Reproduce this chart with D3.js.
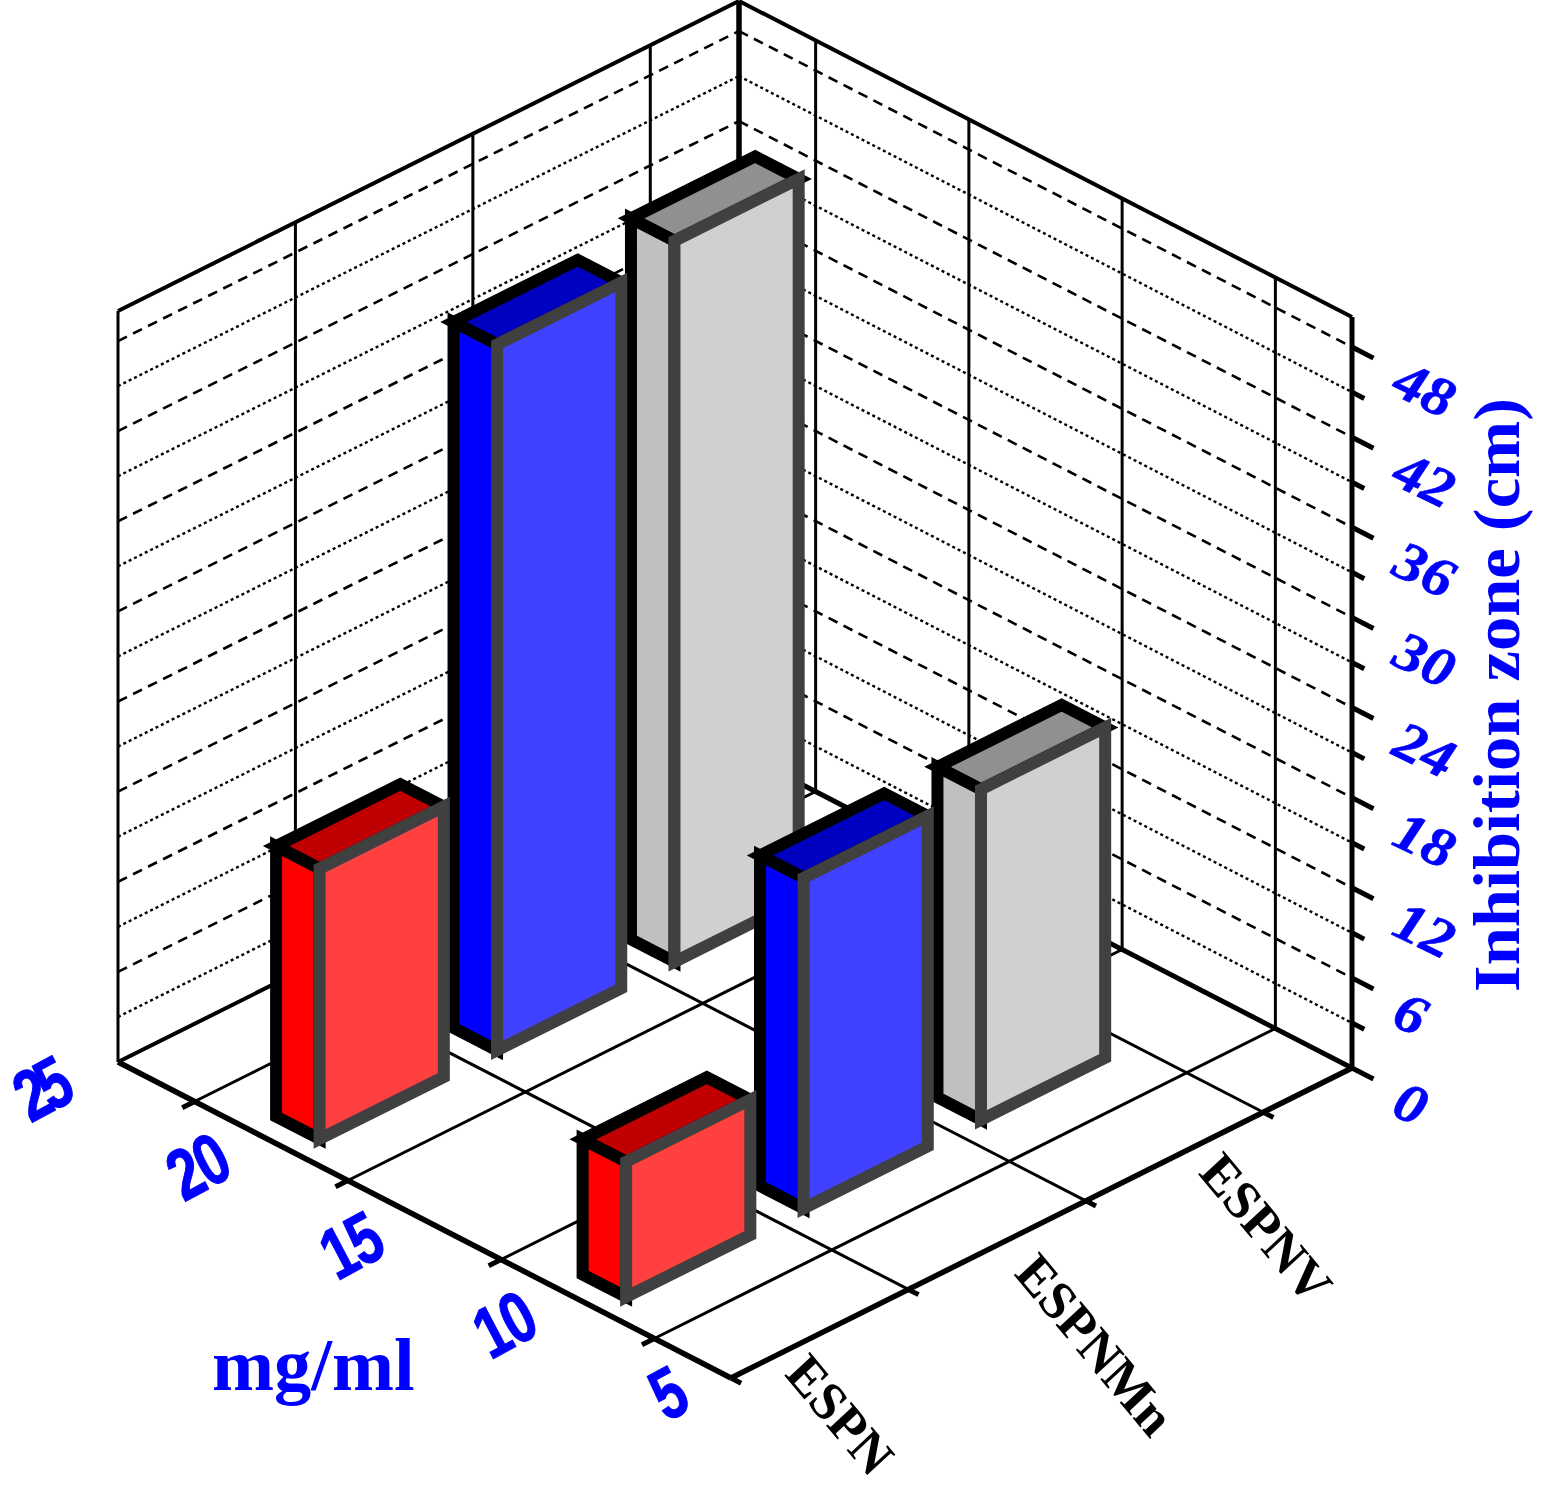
<!DOCTYPE html>
<html>
<head>
<meta charset="utf-8">
<script src="https://cdn.jsdelivr.net/npm/d3@7"></script>
<style>
  html, body { margin: 0; padding: 0; background: #fff; }
  svg { display: block; }
</style>
</head>
<body>
<div class="canvas"></div>
<script>
// Data
const categories = ['ESPN', 'ESPNMn', 'ESPNV'];
const categoryPos = [0.5, 1.5, 2.5];
const categoryTicks = [1, 2, 3];
const rows = [17.5, 7.5];              // mg/ml position of the two bar rows, back row first
const backRow = [18, 47, 48];          // inhibition zone at the back row
const frontRow = [9, 22, 22];          // inhibition zone at the front row
const concTicks = [5, 10, 15, 20];
const concLabels = [5, 10, 15, 20, 25];
const majorTicks = [0, 6, 12, 18, 24, 30, 36, 42, 48];
const minorTicks = [3, 9, 15, 21, 27, 33, 39, 45];

const seriesLeft = ['#ff0000', '#0000ff', '#c0c0c0'];
const seriesRight = ['#ff4040', '#4040ff', '#d0d0d0'];
const seriesTop = ['#c00000', '#0000c0', '#909090'];

// Setting constants
const wWidth = 1541;
const wHeight = 1489;

const svg = d3.select('.canvas')
    .append('svg')
    .attr('width', wWidth)
    .attr('height', wHeight);

// Floor corners of the box in the picture
const front = [731, 1378];
const right = [1352, 1068];
const left = [118, 1062];

// Scales, one for each box direction
const catScale = d3.scaleLinear().domain([0, 3.5]).range([0, 1]);
const concScale = d3.scaleLinear().domain([2.5, 22.5]).range([0, 1]);
const valScale = d3.scaleLinear().domain([0, 50]).range([0, 751]);

const catMin = 0, catMax = 3.5, concMin = 2.5, concMax = 22.5, valMax = 50;

// 3D box position to screen position
function project(c, z, v) {
    const a = catScale(c), b = concScale(z);
    return [
        front[0] + a * (right[0] - front[0]) + b * (left[0] - front[0]),
        front[1] + a * (right[1] - front[1]) + b * (left[1] - front[1]) - valScale(v)
    ];
}

function seg(g, p, q, width, dash) {
    const a = project(...p), b = project(...q);
    g.append('line')
        .attr('x1', a[0]).attr('y1', a[1])
        .attr('x2', b[0]).attr('y2', b[1])
        .attr('stroke', '#000')
        .attr('stroke-width', width)
        .attr('stroke-dasharray', dash || null);
}

const grid = svg.append('g');

// Wall and floor grid lines
majorTicks.slice(1).forEach(v => {
    seg(grid, [catMin, concMax, v], [catMax, concMax, v], 2.6, '10 6.8');
    seg(grid, [catMax, concMax, v], [catMax, concMin, v], 2.6, '10 6.8');
});
minorTicks.forEach(v => {
    seg(grid, [catMin, concMax, v], [catMax, concMax, v], 2.4, '3 3');
    seg(grid, [catMax, concMax, v], [catMax, concMin, v], 2.4, '3 3');
});
categoryTicks.forEach(c => {
    seg(grid, [c, concMax, 0], [c, concMax, valMax], 3);
    seg(grid, [c, concMin, 0], [c, concMax, 0], 3);
    seg(grid, [c, concMin, 0], [c, concMin - 0.33, 0], 5);
});
concTicks.forEach(z => {
    seg(grid, [catMax, z, 0], [catMax, z, valMax], 3);
    seg(grid, [catMin, z, 0], [catMax, z, 0], 3);
    seg(grid, [catMin, z, 0], [catMin - 0.07, z, 0], 5);
});

// Box edges
seg(grid, [catMin, concMax, 0], [catMin, concMax, valMax], 3);
seg(grid, [catMax, concMax, 0], [catMax, concMax, valMax], 5.5);
seg(grid, [catMax, concMin, 0], [catMax, concMin, valMax], 5);
seg(grid, [catMin, concMax, valMax], [catMax, concMax, valMax], 4);
seg(grid, [catMax, concMax, valMax], [catMax, concMin, valMax], 4);
seg(grid, [catMin, concMax, 0], [catMax, concMax, 0], 4);
seg(grid, [catMax, concMax, 0], [catMax, concMin, 0], 5);
seg(grid, [catMin, concMin, 0], [catMin, concMax, 0], 5.5);
seg(grid, [catMin, concMin, 0], [catMax, concMin, 0], 5.5);
seg(grid, [catMin, concMin, 0], [catMin, concMin - 0.33, 0], 5);

// Value axis ticks
majorTicks.forEach(v => seg(grid, [catMax, concMin, v], [catMax, concMin - 0.7, v], 5));
minorTicks.forEach(v => seg(grid, [catMax, concMin, v], [catMax, concMin - 0.4, v], 5));

// Bars, far ones first so that the near ones cover them
const halfCat = 0.35, halfConc = 0.71;
const barStroke = 12;

function poly(g, pts, fill, stroke) {
    g.append('polygon')
        .attr('points', pts.map(p => project(...p).join(',')).join(' '))
        .attr('fill', fill)
        .attr('stroke', stroke)
        .attr('stroke-width', barStroke)
        .attr('stroke-linejoin', 'miter')
        .attr('stroke-miterlimit', 10);
}

const bars = svg.append('g');
[backRow, frontRow].forEach((vals, r) => {
    d3.range(categories.length - 1, -1, -1).forEach(i => {
        const c0 = categoryPos[i] - halfCat, c1 = categoryPos[i] + halfCat;
        const z0 = rows[r] - halfConc, z1 = rows[r] + halfConc;
        const v = vals[i];
        poly(bars, [[c0, z0, v], [c0, z1, v], [c1, z1, v], [c1, z0, v]], seriesTop[i], '#000');
        poly(bars, [[c0, z0, 0], [c0, z1, 0], [c0, z1, v], [c0, z0, v]], seriesLeft[i], '#000');
        poly(bars, [[c0, z0, 0], [c1, z0, 0], [c1, z0, v], [c0, z0, v]], seriesRight[i], '#404040');
    });
});

// Tick labels lie in the plane of their axis, so they get their own matrix
function skewText(x, y, m, size, family, weight, style, fill, str) {
    return svg.append('text')
        .attr('transform', `matrix(${m.join(',')},${x},${y})`)
        .attr('font-family', family)
        .attr('font-size', size)
        .attr('font-weight', weight)
        .attr('font-style', style)
        .attr('fill', fill)
        .text(str);
}

const serif = '"Liberation Serif", serif';
const sans = '"Liberation Sans", sans-serif';

majorTicks.forEach(v => {
    const p = project(catMax, concMin, v);
    skewText(p[0] + 38, p[1] + 46, [1.1, 0.53, -0.42, 1.02], 50, serif, 'bold', 'italic', '#0000ff', v)
        .attr('stroke', '#0000ff')
        .attr('stroke-width', 0.6);
});

concLabels.forEach(z => {
    const p = project(catMin, z, 0);
    const str = String(z);
    skewText(p[0] + (str.length > 1 ? -11 : 12), p[1] + (str.length > 1 ? 101 : 84), [0.87, -0.47, 0.6, 1.14], 56, sans, 'bold', 'normal', '#0000ff', str)
        .attr('letter-spacing', z === 25 ? -7 : -2)
        .attr('stroke', '#0000ff')
        .attr('stroke-width', 0.8);
});

const catLabelShift = [[-2, -3], [50, -15], [57, -27]];
categories.forEach((name, i) => {
    const p = project(categoryPos[i], concMin, 0);
    skewText(p[0] + catLabelShift[i][0] - 34, p[1] + catLabelShift[i][1] + 44, [0.64, 0.77, -0.73, 0.68], 53, serif, 'bold', 'normal', '#000', name);
});

// Axis titles
svg.append('text')
    .attr('x', 212).attr('y', 1390)
    .attr('font-family', serif).attr('font-weight', 'bold')
    .attr('font-size', 74.5).attr('fill', '#0000ff')
    .text('mg/ml');

svg.append('text')
    .attr('transform', 'translate(1519,992) rotate(-90)')
    .attr('font-family', serif).attr('font-weight', 'bold')
    .attr('font-size', 66).attr('fill', '#0000ff')
    .attr('textLength', 594).attr('lengthAdjust', 'spacingAndGlyphs')
    .text('Inhibition zone (cm)');
</script>
</body>
</html>
